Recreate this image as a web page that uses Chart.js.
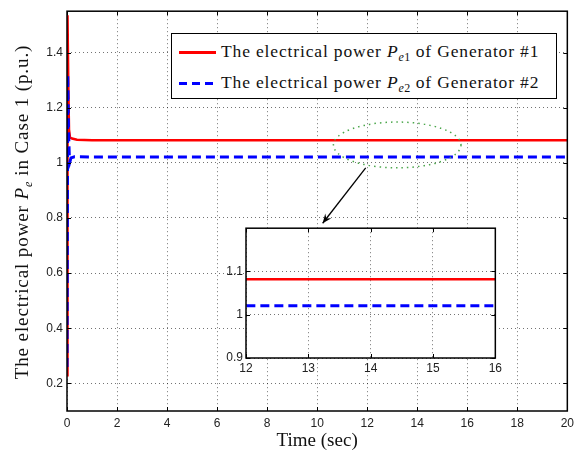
<!DOCTYPE html>
<html>
<head>
<meta charset="utf-8">
<script src="https://cdn.jsdelivr.net/npm/chart.js@4"></script>
<style>
  body{margin:0;background:#fff;}
  #wrap{position:relative;width:579px;height:457px;overflow:hidden;font-family:'Liberation Serif','Times New Roman',serif;}
  #main{position:absolute;left:0;top:0;}
  #inset{position:absolute;left:205px;top:218px;}
  #legend{position:absolute;left:171px;top:33px;width:384px;height:64px;border:1px solid #000;background:#fff;
          font-family:'Liberation Serif','Times New Roman',serif;font-size:17.5px;letter-spacing:0.85px;color:#111;}
  .row{position:absolute;left:7px;height:20px;line-height:20px;white-space:nowrap;}
  .sample{display:inline-block;width:37px;vertical-align:middle;margin-right:5px;}
  .s-red{height:3px;background:#ff0000;}
  .s-blue{height:3px;background:repeating-linear-gradient(90deg,#0000ff 0 8px,transparent 8px 13px);}
  sub{font-size:12px;vertical-align:-4px;line-height:0;letter-spacing:0.3px;}
  #ytitle{position:absolute;left:22px;top:212px;width:420px;text-align:center;font-size:19px;letter-spacing:0.9px;color:#111;
          font-family:'Liberation Serif','Times New Roman',serif;transform:translate(-50%,-50%) rotate(-90deg);white-space:nowrap;}
</style>
</head>
<body>
<div id="wrap">
  <canvas id="main" width="579" height="457"></canvas>
  <canvas id="inset" width="300" height="170"></canvas>
  <div id="legend">
    <div class="row" style="top:7px"><span class="sample s-red"></span>The electrical power <i>P</i><sub><i>e</i>1</sub> of Generator #1</div>
    <div class="row" style="top:38px"><span class="sample s-blue"></span>The electrical power <i>P</i><sub><i>e</i>2</sub> of Generator #2</div>
  </div>
  <div id="ytitle">The electrical power <i>P</i><sub><i>e</i></sub> in Case 1 (p.u.)</div>
</div>
<script>
// ── DATA ─────────────────────────────────────────────────
const gen1Time = [0, 0.02, 0.05, 0.08, 0.12, 0.2, 0.4, 1, 20];
const gen1Pe   = [0.23, 1.535, 1.3, 1.12, 1.092, 1.088, 1.084, 1.082, 1.082];
const gen2Time = [0, 0.03, 0.06, 0.09, 0.12, 0.16, 0.3, 1, 20];
const gen2Pe   = [0.26, 1.32, 1.12, 1.03, 1.005, 1.018, 1.022, 1.021, 1.021];

const mainXTicks = [0, 2, 4, 6, 8, 10, 12, 14, 16, 18, 20];
const mainYTicks = [0.2, 0.4, 0.6, 0.8, 1.0, 1.2, 1.4];
const insetXTicks = [12, 13, 14, 15, 16];
const insetYTicks = [0.9, 1.0, 1.1];

// zoom marker (ellipse centre/radii and arrow ends, in data units)
const zoomEllipse = {x: 13.2, y: 1.065, rx: 2.55, ry: 0.083};
const zoomArrow = {x0: 11.94, y0: 0.982, x1: 10.22, y1: 0.781};

// ── HELPERS ──────────────────────────────────────────────
const pts = (xs, ys) => xs.map((x, i) => ({x, y: ys[i]}));
const fmtTick = v => String(+(+v).toFixed(2));
const tickFont = {family: "'Liberation Sans', Arial, sans-serif", size: 12};

const setTicks = arr => s => { s.ticks = arr.map(v => ({value: v})); };

// box + inward tick marks, MATLAB style
const boxPlugin = {
  id: 'box',
  beforeDraw(c, args, o) {
    if (!o.fill) return;
    const a = c.chartArea, ctx = c.ctx;
    ctx.save(); ctx.fillStyle = '#fff';
    ctx.fillRect(a.left, a.top, a.right - a.left, a.bottom - a.top);
    ctx.restore();
  },
  afterDatasetsDraw(c) {
    const a = c.chartArea, ctx = c.ctx, L = 4;
    ctx.save();
    ctx.strokeStyle = '#000'; ctx.lineWidth = 1;
    ctx.beginPath();
    c.scales.x.ticks.forEach(t => {
      const px = Math.round(c.scales.x.getPixelForValue(t.value)) + 0.5;
      ctx.moveTo(px, a.bottom); ctx.lineTo(px, a.bottom - L);
      ctx.moveTo(px, a.top); ctx.lineTo(px, a.top + L);
    });
    c.scales.y.ticks.forEach(t => {
      const py = Math.round(c.scales.y.getPixelForValue(t.value)) + 0.5;
      ctx.moveTo(a.left, py); ctx.lineTo(a.left + L, py);
      ctx.moveTo(a.right, py); ctx.lineTo(a.right - L, py);
    });
    ctx.stroke();
    ctx.lineWidth = 1.5;
    ctx.strokeRect(a.left, a.top, a.right - a.left, a.bottom - a.top);
    ctx.restore();
  }
};

// ellipse + arrow pointing to inset
const markPlugin = {
  id: 'mark',
  afterDatasetsDraw(c) {
    const xs = c.scales.x, ys = c.scales.y, ctx = c.ctx;
    const cx = xs.getPixelForValue(zoomEllipse.x), cy = ys.getPixelForValue(zoomEllipse.y);
    const rx = xs.getPixelForValue(zoomEllipse.x + zoomEllipse.rx) - cx;
    const ry = cy - ys.getPixelForValue(zoomEllipse.y + zoomEllipse.ry);
    ctx.save();
    ctx.strokeStyle = '#4aa64a'; ctx.lineWidth = 1.5; ctx.setLineDash([1.5, 4]);
    ctx.beginPath(); ctx.ellipse(cx, cy, rx, ry, 0, 0, Math.PI * 2); ctx.stroke();
    ctx.setLineDash([]);
    const x0 = xs.getPixelForValue(zoomArrow.x0), y0 = ys.getPixelForValue(zoomArrow.y0);
    const x1 = xs.getPixelForValue(zoomArrow.x1), y1 = ys.getPixelForValue(zoomArrow.y1);
    ctx.strokeStyle = '#000'; ctx.fillStyle = '#000'; ctx.lineWidth = 1.3;
    ctx.beginPath(); ctx.moveTo(x0, y0); ctx.lineTo(x1, y1); ctx.stroke();
    const ang = Math.atan2(y1 - y0, x1 - x0), h = 10, w = 0.4;
    ctx.beginPath();
    ctx.moveTo(x1, y1);
    ctx.lineTo(x1 - h * Math.cos(ang - w), y1 - h * Math.sin(ang - w));
    ctx.lineTo(x1 - h * 0.6 * Math.cos(ang), y1 - h * 0.6 * Math.sin(ang));
    ctx.lineTo(x1 - h * Math.cos(ang + w), y1 - h * Math.sin(ang + w));
    ctx.closePath(); ctx.fill();
    ctx.restore();
  }
};

const grid = {color: 'rgba(0,0,0,0.55)', lineWidth: 1, drawTicks: false};
const border = {display: false, dash: [1, 3]};

function datasets() {
  return [
    {label: 'Pe1', data: pts(gen1Time, gen1Pe), borderColor: '#ff0000', borderWidth: 2.5, pointRadius: 0, tension: 0, order: 2},
    {label: 'Pe2', data: pts(gen2Time, gen2Pe), borderColor: '#0000ff', borderWidth: 3, borderDash: [9, 5], pointRadius: 0, tension: 0, order: 1}
  ];
}

// ── MAIN CHART ───────────────────────────────────────────
new Chart(document.getElementById('main'), {
  type: 'line',
  data: {datasets: datasets()},
  plugins: [boxPlugin, markPlugin],
  options: {
    responsive: false, animation: false, devicePixelRatio: 1,
    layout: {padding: {top: 8, right: 11, left: 0, bottom: 0}},
    plugins: {legend: {display: false}, tooltip: {enabled: false}, box: {fill: false}},
    scales: {
      x: {
        type: 'linear', min: 0, max: 20,
        afterBuildTicks: setTicks(mainXTicks),
        afterFit: s => { s.height = 46; },
        grid, border,
        ticks: {font: tickFont, color: '#222', padding: 5, maxRotation: 0, callback: fmtTick},
        title: {display: true, text: 'Time (sec)', color: '#111', font: {family: "'Liberation Serif', serif", size: 19}, padding: {top: 0, bottom: 5}}
      },
      y: {
        type: 'linear', min: 0.1, max: 1.55,
        afterBuildTicks: setTicks(mainYTicks),
        afterFit: s => { s.width = 67; },
        grid, border,
        ticks: {font: tickFont, color: '#222', padding: 4, callback: fmtTick}
      }
    }
  }
});

// ── INSET ────────────────────────────────────────────────
new Chart(document.getElementById('inset'), {
  type: 'line',
  data: {datasets: datasets()},
  plugins: [boxPlugin],
  options: {
    responsive: false, animation: false, devicePixelRatio: 1,
    layout: {padding: {top: 5, right: 5, left: 0, bottom: 0}},
    plugins: {legend: {display: false}, tooltip: {enabled: false}, box: {fill: true}},
    scales: {
      x: {
        type: 'linear', min: 12, max: 16,
        afterBuildTicks: setTicks(insetXTicks),
        afterFit: s => { s.height = 30; },
        grid, border,
        ticks: {font: tickFont, color: '#222', padding: 3, maxRotation: 0, callback: fmtTick}
      },
      y: {
        type: 'linear', min: 0.9, max: 1.2,
        afterBuildTicks: setTicks(insetYTicks),
        afterFit: s => { s.width = 41; },
        grid, border,
        ticks: {font: tickFont, color: '#222', padding: 3, callback: fmtTick}
      }
    }
  }
});
</script>
</body>
</html>
